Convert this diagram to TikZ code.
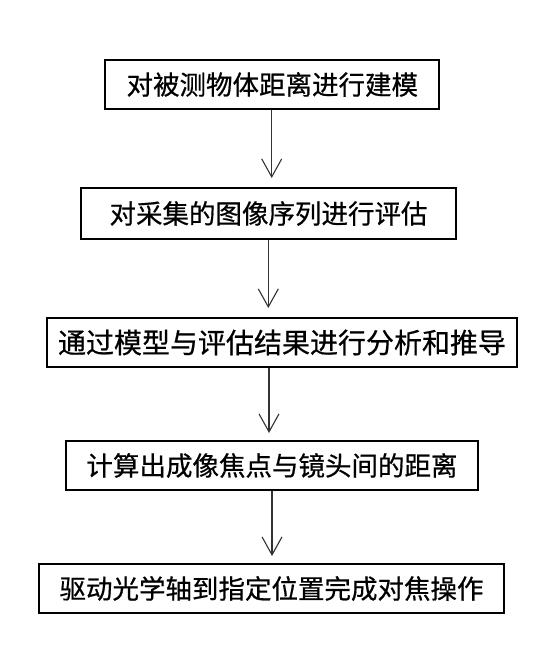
\documentclass[tikz,border=0pt]{standalone}
\usepackage{fontspec}
\newfontfamily\cjk[FakeBold=0.6]{Noto Sans CJK SC}
\usetikzlibrary{arrows.meta}
\begin{document}
\begin{tikzpicture}[x=1pt,y=-1pt,
  stepbox/.style={draw=black,line width=2pt,inner sep=0pt,font=\cjk\fontsize{26.5}{30}\selectfont},
  arr/.style={draw=black!80,line width=1.1pt,-{Straight Barb[length=18pt,width=20pt,line width=1.1pt]},shorten >=9pt}]
\useasboundingbox (0,0) rectangle (553,666);
\node[stepbox,minimum width=334pt,minimum height=49pt] (b1) at (272.3,84.5) {对被测物体距离进行建模};
\node[stepbox,minimum width=375pt,minimum height=51pt] (b2) at (268.5,213.5) {对采集的图像序列进行评估\hspace{17pt}};
\node[stepbox,minimum width=470pt,minimum height=49pt,font=\cjk\fontsize{28}{30}\selectfont] (b3) at (282,342.5) {通过模型与评估结果进行分析和推导\hspace{7pt}};
\node[stepbox,minimum width=412pt,minimum height=49pt] (b4) at (272,465.5) {计算出成像焦点与镜头间的距离};
\node[stepbox,minimum width=465pt,minimum height=49pt] (b5) at (271.5,588.5) {驱动光学轴到指定位置完成对焦操作};
\coordinate (c1) at ([xshift=-0.6pt]b1.south);
\coordinate (c2) at ([xshift=-0.2pt]b2.south);
\coordinate (c3) at ([xshift=-13pt]b3.south);
\coordinate (c4) at ([xshift=0pt]b4.south);
\draw[arr] (c1) -- (c1 |- b2.north);
\draw[arr] (c2) -- (c2 |- b3.north);
\draw[arr,shorten >=7pt] (c3) -- (c3 |- b4.north);
\draw[arr,shorten >=7pt] (c4) -- (c4 |- b5.north);
\end{tikzpicture}
\end{document}
